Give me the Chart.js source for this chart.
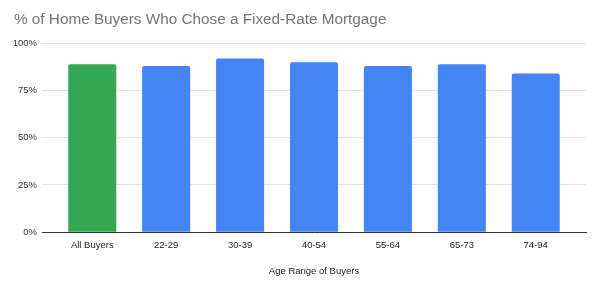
<!DOCTYPE html>
<html>
<head>
<meta charset="utf-8">
<script src="https://cdn.jsdelivr.net/npm/chart.js@4"></script>
<style>
html,body{margin:0;padding:0;background:#fff;}
#wrap{width:600px;height:283px;}
</style>
</head>
<body>
<div id="wrap"><canvas id="c"></canvas></div>
<script>
const categories = ["All Buyers", "22-29", "30-39", "40-54", "55-64", "65-73", "74-94"];
const fixedRatePct = [89, 88, 92, 90, 88, 89, 84];
const barColors = ["#34a853", "#4285f4", "#4285f4", "#4285f4", "#4285f4", "#4285f4", "#4285f4"];
const yTicks = [0, 25, 50, 75, 100];

const FONT = "'Liberation Sans', Arial, sans-serif";
const points = fixedRatePct.map((v, i) => ({x: i, y: v}));

new Chart(document.getElementById('c'), {
  type: 'bar',
  data: {
    datasets: [{
      data: points,
      backgroundColor: barColors,
      borderWidth: 0,
      borderRadius: {topLeft: 2, topRight: 2, bottomLeft: 0, bottomRight: 0},
      borderSkipped: 'bottom',
      categoryPercentage: 1.0,
      barPercentage: 0.65
    }]
  },
  options: {
    responsive: true,
    maintainAspectRatio: false,
    animation: false,
    layout: {padding: {left: 14, right: 14, top: 0, bottom: 0}},
    plugins: {
      legend: {display: false},
      tooltip: {enabled: false},
      title: {
        display: true,
        text: '% of Home Buyers Who Chose a Fixed-Rate Mortgage',
        align: 'start',
        color: '#757575',
        font: {family: FONT, size: 15.3, weight: 'normal'},
        padding: {top: 11, bottom: 14}
      }
    },
    scales: {
      x: {
        type: 'linear',
        offset: false,
        min: -0.68,
        max: 6.68,
        grid: {display: false, drawTicks: false},
        border: {display: true, color: '#333333', width: 1},
        ticks: {
          stepSize: 1,
          includeBounds: false,
          autoSkip: false,
          maxRotation: 0,
          padding: 7,
          color: '#222222',
          font: {family: FONT, size: 9.5},
          callback: (v) => Number.isInteger(v) && categories[v] !== undefined ? categories[v] : ''
        },
        title: {
          display: true,
          text: 'Age Range of Buyers',
          color: '#222222',
          font: {family: FONT, size: 9.5},
          padding: {top: 8, bottom: 6}
        }
      },
      y: {
        min: 0,
        max: 100,
        afterBuildTicks: (axis) => { axis.ticks = yTicks.map(v => ({value: v})); },
        afterFit: (axis) => { axis.width = 28; },
        grid: {color: '#e3e3e3', drawTicks: false, lineWidth: 1},
        border: {display: false},
        ticks: {
          padding: 5,
          color: '#333333',
          font: {family: FONT, size: 9.5},
          callback: (v) => v + '%'
        }
      }
    }
  }
});
</script>
</body>
</html>
